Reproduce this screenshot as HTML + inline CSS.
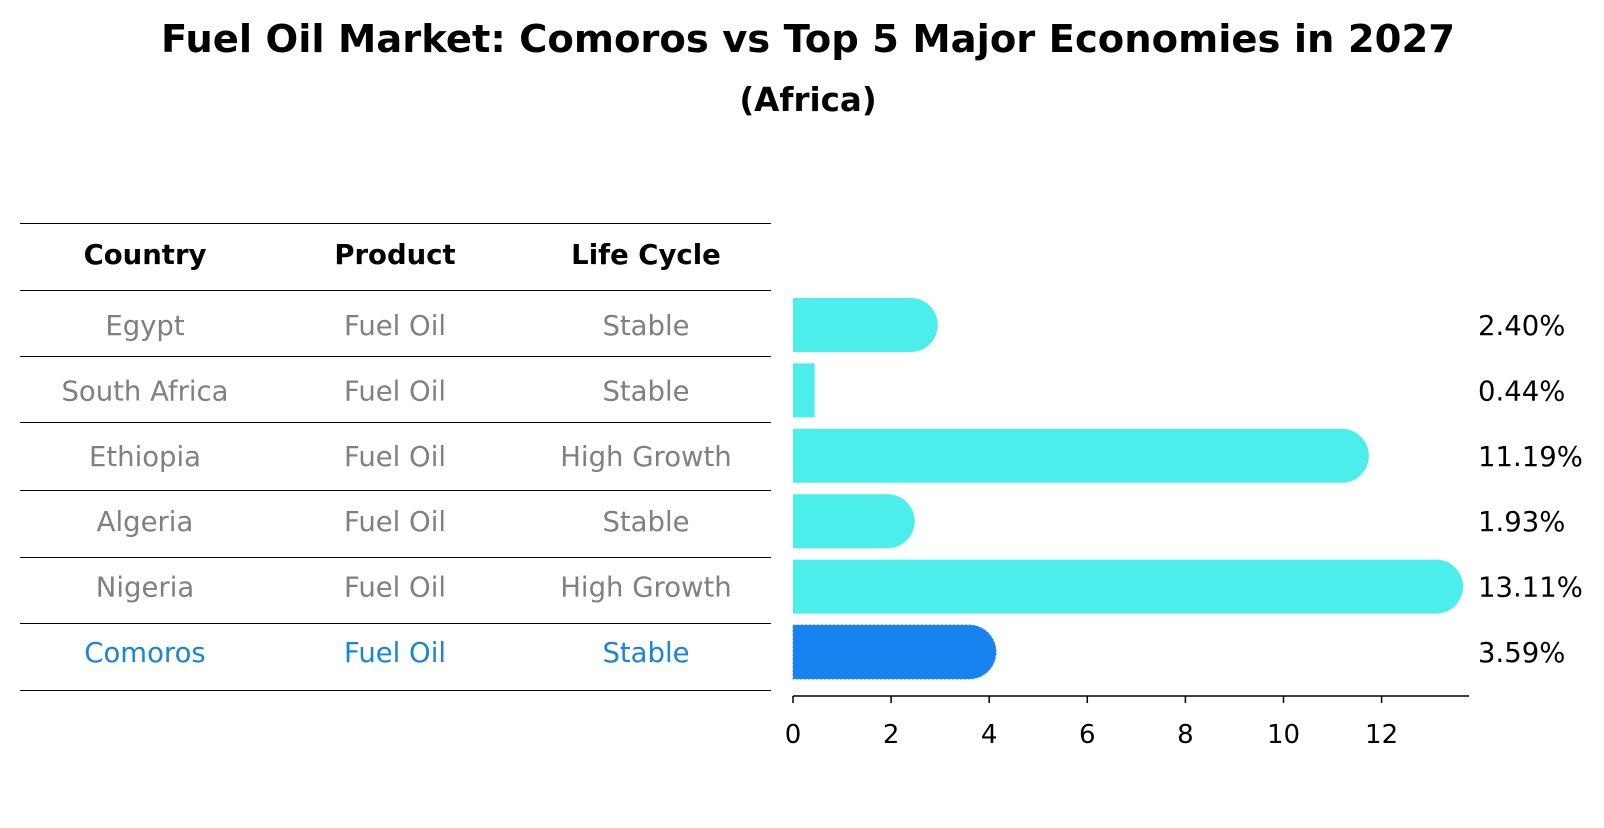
<!DOCTYPE html>
<html><head><meta charset="utf-8"><style>
body{margin:0;background:#fff;font-family:"Liberation Sans","DejaVu Sans",sans-serif}
</style></head><body>
<svg width="1604" height="823" xmlns="http://www.w3.org/2000/svg" font-family="DejaVu Sans, Liberation Sans, sans-serif">
<text x="808" y="52" text-anchor="middle" font-size="38.5" font-weight="bold">Fuel Oil Market: Comoros vs Top 5 Major Economies in 2027</text>
<text x="808" y="111" text-anchor="middle" font-size="32.5" font-weight="bold">(Africa)</text>
<g id="table"></g>
<g id="bars"></g>
</svg>
<script>
const countries=["Egypt","South Africa","Ethiopia","Algeria","Nigeria","Comoros"];
const products=["Fuel Oil","Fuel Oil","Fuel Oil","Fuel Oil","Fuel Oil","Fuel Oil"];
const lifecycle=["Stable","Stable","High Growth","Stable","High Growth","Stable"];
const values=[2.40,0.44,11.19,1.93,13.11,3.59];
const ticks=[0,2,4,6,8,10,12];
const NS="http://www.w3.org/2000/svg";
function mk(t,a,p){const e=document.createElementNS(NS,t);for(const k in a)e.setAttribute(k,a[k]);p.appendChild(e);return e;}
const x0=793,ppu=49.05;
const xs=v=>x0+v*ppu;
const rowY=i=>325+i*65.4;
const tbl=document.getElementById('table'),bars=document.getElementById('bars');
const lines=[223,290,356,422,490,557,623,690];
lines.forEach(y=>{const l=mk('line',{x1:20,x2:771,y1:y+0.5,y2:y+0.5,stroke:'#000','stroke-width':1,'shape-rendering':'crispEdges'},tbl);

});
const cx=[145,395,646];
["Country","Product","Life Cycle"].forEach((h,j)=>{const t=mk('text',{x:cx[j],y:264,'text-anchor':'middle','font-size':27.5,'font-weight':'bold'},tbl);t.textContent=h;

});
countries.forEach((c,i)=>{
 const col=i===5?'#1a85d6':'#808080';
 [c,products[i],lifecycle[i]].forEach((s,j)=>{const t=mk('text',{x:cx[j],y:rowY(i)+10,'text-anchor':'middle','font-size':27.5,fill:col},tbl);t.textContent=s;
 
 });
 const h=54,r=27,y=rowY(i)-h/2,xe=xs(values[i]);
 const fill=i===5?'#1783f0':'#4beeea';
 let d;
 if(values[i]>1){d=`M${x0},${y} H${xe} A${r},${r} 0 0 1 ${xe},${y+h} H${x0} Z`;}
 else d=`M${x0},${y} H${xe} V${y+h} H${x0} Z`;
 const b=mk('path',{d:d,fill:fill},bars);
 if(i===5){b.setAttribute('stroke','#3a8fe0');b.setAttribute('stroke-dasharray','2 2');}
 
 
 const lt=mk('text',{x:1478,y:rowY(i)+10,'font-size':27.5},bars);lt.textContent=values[i].toFixed(2)+'%';
 
 
});
const ax=mk('line',{x1:x0,x2:1469,y1:696,y2:696,stroke:'#000','stroke-width':1.5},bars);


ticks.forEach(v=>{const l=mk('line',{x1:xs(v),x2:xs(v),y1:696,y2:703,stroke:'#000','stroke-width':1.5},bars);


const t=mk('text',{x:xs(v),y:743,'text-anchor':'middle','font-size':26},bars);t.textContent=v;

});
</script>
</body></html>
